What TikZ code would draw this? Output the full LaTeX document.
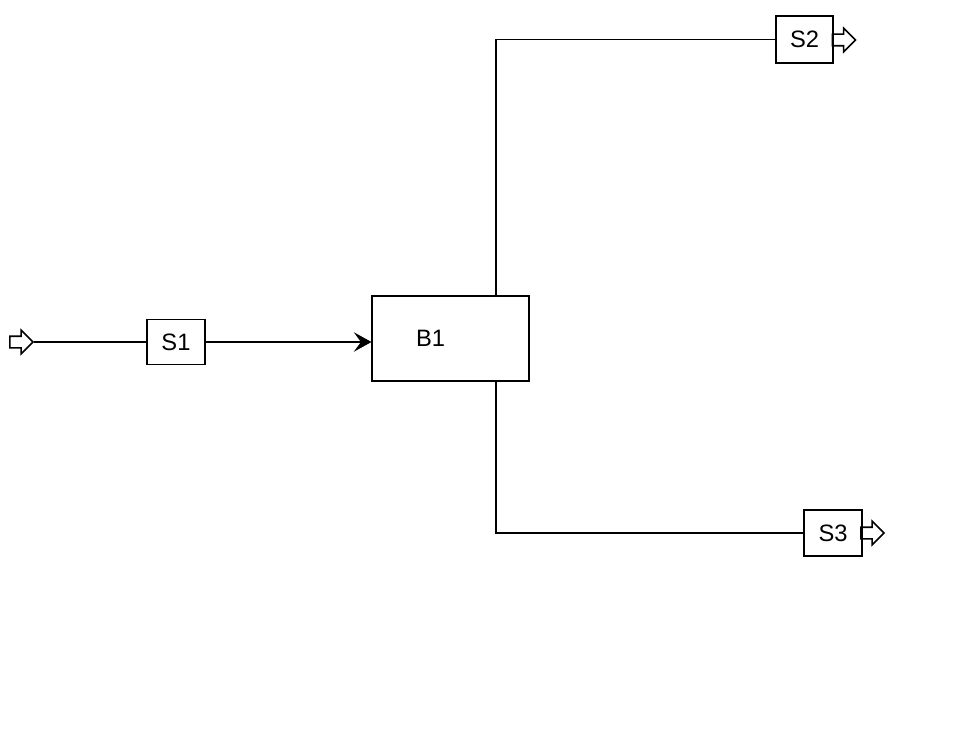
\documentclass[tikz,border=0pt]{standalone}
\usepackage{fontspec}
\setmainfont{Liberation Sans}
\usetikzlibrary{arrows.meta,calc,shapes.arrows}

\begin{document}
\begin{tikzpicture}[x=0.02cm,y=-0.02cm,>=Stealth,
   blk/.style={draw,line width=0.6pt,font=\fontsize{13.5}{15}\selectfont,inner sep=0pt},
   port/.style={single arrow,draw,line width=0.9pt,minimum height=0.46cm,
     inner xsep=0pt,inner ysep=0.1cm,single arrow head extend=0.12cm}]
  \useasboundingbox (0,0) rectangle (960,750);
  % streams and block
  \node[port] (feed) at (18.5,342) {};
  \node[blk,minimum width=1.16cm,minimum height=0.9cm] (S1) at (176,342) {S1};
  \node[blk,minimum width=3.14cm,minimum height=1.7cm,
    label={[font=\fontsize{13.5}{15}\selectfont,xshift=-0.4cm]center:B1}] (B1) at (450.5,338.5) {};
  \node[blk,minimum width=1.14cm,minimum height=0.94cm] (S2) at (804.5,39.5) {S2};
  \node[blk,minimum width=1.16cm,minimum height=0.92cm] (S3) at (833,533) {S3};
  \node[port] (out2) at (841,40) {};
  \node[port] (out3) at (869.5,533) {};
  \coordinate (top) at ($(B1.north)+(45.5,0)$);
  \coordinate (bot) at ($(B1.south)+(45.5,0)$);
  % connectors
  \draw[line width=1.3pt] (feed.east) -- (S1.west);
  \draw[line width=1.3pt,arrows={->[length=10pt,width=11pt,inset=4pt]}] (S1.east) -- (B1.west |- S1.east);
  \draw[line width=0.6pt] (top) |- (S2.west);
  \draw[line width=0.6pt] (bot) |- (S3.west);
\end{tikzpicture}
\end{document}
